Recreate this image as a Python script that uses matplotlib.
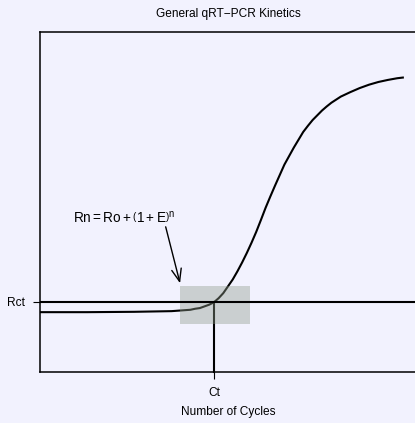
import numpy as np
import matplotlib.pyplot as plt

plt.rcParams['font.family'] = ['Liberation Sans', 'DejaVu Sans']
plt.rcParams['mathtext.fontset'] = 'custom'
plt.rcParams['mathtext.rm'] = 'Liberation Sans'
plt.rcParams['mathtext.it'] = 'Liberation Sans'

# amplification curve (cycle, normalised fluorescence)
cycles = [0, 5, 10, 12, 14, 15, 15.5, 16, 16.5, 17, 17.5, 18, 18.5, 19, 19.5,
          20, 20.5, 21, 21.5, 22, 22.5, 23, 23.5, 24, 24.5, 25, 25.5, 26,
          26.5, 27, 27.5, 28, 28.5, 29, 29.5, 30, 30.5, 31, 32, 33, 34, 35,
          36, 37, 38, 38.6]
rn = [0.176, 0.176, 0.177, 0.178, 0.179, 0.181, 0.182, 0.183, 0.186, 0.188,
      0.193, 0.198, 0.205, 0.217, 0.232, 0.252, 0.272, 0.296, 0.322, 0.350,
      0.380, 0.412, 0.447, 0.483, 0.516, 0.548, 0.579, 0.610, 0.635, 0.660,
      0.683, 0.706, 0.724, 0.741, 0.755, 0.769, 0.781, 0.792, 0.810, 0.823,
      0.835, 0.845, 0.853, 0.859, 0.864, 0.866]

ct = 18.54
rct = 0.206
box_x = [14.9, 22.3]
box_y = [0.141, 0.253]
arrow_from = (13.37, 0.427)
arrow_to = (14.9, 0.261)

bg = '#F2F2FE'
fig = plt.figure(figsize=(4.15, 4.23), dpi=100, facecolor=bg)
ax = fig.add_axes([40/415, 51/423, 376/415, 340/423], facecolor=bg)
ax.set_xlim(0, 40)
ax.set_ylim(0, 1)

ax.plot(cycles, rn, color='black', lw=1.5, zorder=2, solid_joinstyle='round')
ax.plot([ct, ct], [0, rct], color='black', lw=1.5, zorder=2, clip_on=False)
ax.fill_between(box_x, box_y[0], box_y[1], color='#8F9C8C', alpha=0.4,
                lw=0, zorder=3)
ax.axhline(rct, color='black', lw=1.5, zorder=4)

ax.annotate('', xy=arrow_to, xytext=arrow_from,
            arrowprops=dict(arrowstyle='->,head_length=0.9,head_width=0.35',
                        color='black', lw=1.0, shrinkA=0, shrinkB=0))
ax.text(8.9, 0.455, r'$\mathrm{Rn = Ro + \left(1 + E\right)^{n}}$',
        ha='center', va='center', fontsize=9.8)

ax.set_xticks([ct])
ax.set_xticklabels(['Ct'])
ax.set_yticks([rct])
ax.set_yticklabels(['Rct'])
ax.tick_params(length=5, width=0.8, labelsize=8.6, pad=6)
for s in ax.spines.values():
    s.set_linewidth(1.1)

ax.set_title('General qRT\u2212PCR Kinetics', fontsize=8.6, pad=11)
ax.set_xlabel('Number of Cycles', fontsize=8.6, labelpad=5)

fig.savefig('out.png', dpi=100, facecolor=bg)
